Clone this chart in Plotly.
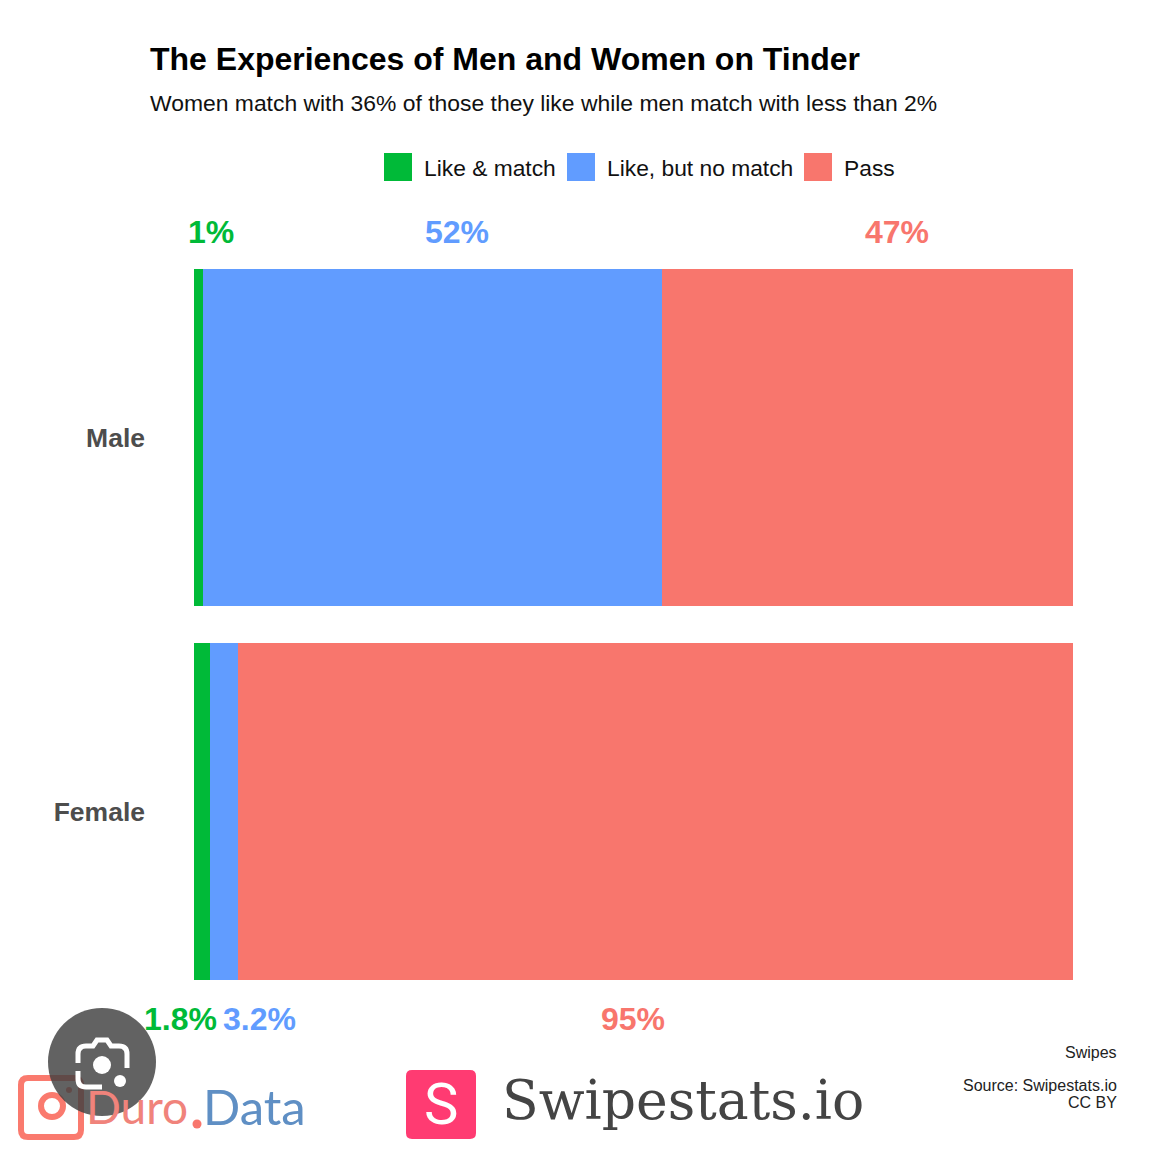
import plotly.graph_objects as go

# Data
categories = ['Female', 'Male']
like_match = [1.8, 1]
like_no_match = [3.2, 52.2]
pass_values = [95, 46.8]
series_names = ['Like & match', 'Like, but no match', 'Pass']
male_labels = ['1%', '52%', '47%']
female_labels = ['1.8%', '3.2%', '95%']

GREEN = '#00BA38'
BLUE = '#619CFF'
RED = '#F8766D'
GREY = '#4D4D4D'
FONT = 'Liberation Sans, Arial, sans-serif'

# the page has an 8px body margin, so positions below are page pixels minus 8
W, H = 1154, 1148
L, R, T, B = 194, 1073, 269, 980


def px(x):
    return (x - 8) / W


def py(y):
    return 1 - (y - 8) / H


fig = go.Figure()
for name, vals, col in zip(series_names, [like_match, like_no_match, pass_values], [GREEN, BLUE, RED]):
    fig.add_trace(go.Bar(
        name=name,
        y=categories,
        x=vals,
        orientation='h',
        marker=dict(color=col, line=dict(width=0)),
        width=0.9,
    ))

fig.update_layout(
    barmode='stack',
    width=W,
    height=H,
    autosize=False,
    margin=dict(l=0, r=0, t=0, b=0),
    plot_bgcolor='white',
    paper_bgcolor='white',
    showlegend=False,
    xaxis=dict(domain=[px(L), px(R)], range=[0, 100], visible=False, fixedrange=True),
    yaxis=dict(
        domain=[py(B + 18.7), py(T - 18.7)],
        range=[-0.5, 1.5],
        tickfont=dict(size=26.5, family=FONT, color=GREY, weight='bold'),
        ticklen=0,
        ticks='',
        showline=False,
        showgrid=False,
        automargin=False,
        ticklabelstandoff=48,
        fixedrange=True,
    ),
)


def text(x, y, s, size, color='#000000', bold=False, anchor='left', family=FONT):
    fig.add_annotation(
        x=px(x), y=py(y), xref='paper', yref='paper',
        text=f'<b>{s}</b>' if bold else s,
        showarrow=False, xanchor=anchor, yanchor='middle',
        font=dict(size=size, family=family, color=color),
        align=anchor,
    )


def rect(x0, y0, x1, y1, **kw):
    fig.add_shape(type='rect', xref='paper', yref='paper', layer='above',
                  x0=px(x0), x1=px(x1), y0=py(y0), y1=py(y1), **kw)


def circle(cx, cy, r, **kw):
    fig.add_shape(type='circle', xref='paper', yref='paper', layer='above',
                  x0=px(cx - r), x1=px(cx + r), y0=py(cy - r), y1=py(cy + r), **kw)


def path(points, color, width, fill='rgba(0,0,0,0)', close=False):
    # points: list of 'M'/'L'/'Q' commands in page pixels
    parts = []
    for cmd, *coords in points:
        xy = [f'{px(coords[i]):.5f},{py(coords[i + 1]):.5f}' for i in range(0, len(coords), 2)]
        parts.append(cmd + ' ' + ' '.join(xy))
    if close:
        parts.append('Z')
    fig.add_shape(type='path', xref='paper', yref='paper', layer='above',
                  path=' '.join(parts), fillcolor=fill, line=dict(color=color, width=width))


def round_rect(x0, y0, x1, y1, r, color, width, fill='rgba(0,0,0,0)'):
    path([('M', x0 + r, y0), ('L', x1 - r, y0), ('Q', x1, y0, x1, y0 + r), ('L', x1, y1 - r),
          ('Q', x1, y1, x1 - r, y1), ('L', x0 + r, y1), ('Q', x0, y1, x0, y1 - r), ('L', x0, y0 + r),
          ('Q', x0, y0, x0 + r, y0)], color, width, fill, close=True)


# Titre
text(148, 59, 'The Experiences of Men and Women on Tinder', 32, bold=True)
text(148, 103, 'Women match with 36% of those they like while men match with less than 2%', 22.9, '#111111')

# Legende
for x, s, col in zip([384, 567, 804], series_names, [GREEN, BLUE, RED]):
    rect(x, 153, x + 28, 181, fillcolor=col, line_width=0)
    text(x + 38, 168, s, 22.8, '#111111')

# Valeurs au-dessus et en-dessous des barres
for x, s, col in zip([211, 457, 897], male_labels, [GREEN, BLUE, RED]):
    text(x, 232, s, 32, col, True, 'center')
for x, s, col in zip([180, 259, 633], female_labels, [GREEN, BLUE, RED]):
    text(x, 1019, s, 32, col, True, 'center')

# Pied de page
text(1119, 1052, 'Swipes', 16, '#222222', anchor='right')
text(1119, 1085, 'Source: Swipestats.io', 16, '#222222', anchor='right')
text(1119, 1102, 'CC BY', 16, '#222222', anchor='right')

# Logo Duro.Data
round_rect(21, 1078, 81, 1137, 7, '#FA7A6E', 6)
circle(52, 1106, 11, fillcolor='rgba(0,0,0,0)', line=dict(color='#FA7A6E', width=6))
circle(69, 1090, 3, fillcolor='#FA7A6E', line_width=0)
text(84, 1106, 'Duro', 46, '#F0837B', family='Lato')
circle(197, 1124, 4.5, fillcolor='#F8766D', line_width=0)
text(201, 1106, 'Data', 49, '#5F8FC4', family='Lato')

# Logo Swipestats
round_rect(406, 1070, 476, 1139, 6, '#FF3B72', 0, fill='#FF3B72')
text(441, 1104, 'S', 58, 'white', anchor='center', family='Roboto')
text(500, 1100, 'Swipestats.io', 53.6, '#444444', family='DejaVu Serif')

# Icone de recherche par image
circle(102, 1062, 54, fillcolor='rgba(64,64,64,0.82)', line_width=0)
path([('M', 78, 1063), ('L', 78, 1054), ('Q', 78, 1046, 86, 1046), ('L', 93, 1046), ('L', 97, 1040),
      ('L', 107, 1040), ('L', 111, 1046), ('L', 119, 1046), ('Q', 127, 1046, 127, 1054), ('L', 127, 1068)],
     'white', 5)
path([('M', 78, 1071), ('L', 78, 1079), ('Q', 78, 1087, 86, 1087), ('L', 102, 1087)], 'white', 5)
circle(102, 1065, 9, fillcolor='white', line_width=0)
circle(120, 1081, 6, fillcolor='white', line_width=0)

fig.write_html("out.html")
